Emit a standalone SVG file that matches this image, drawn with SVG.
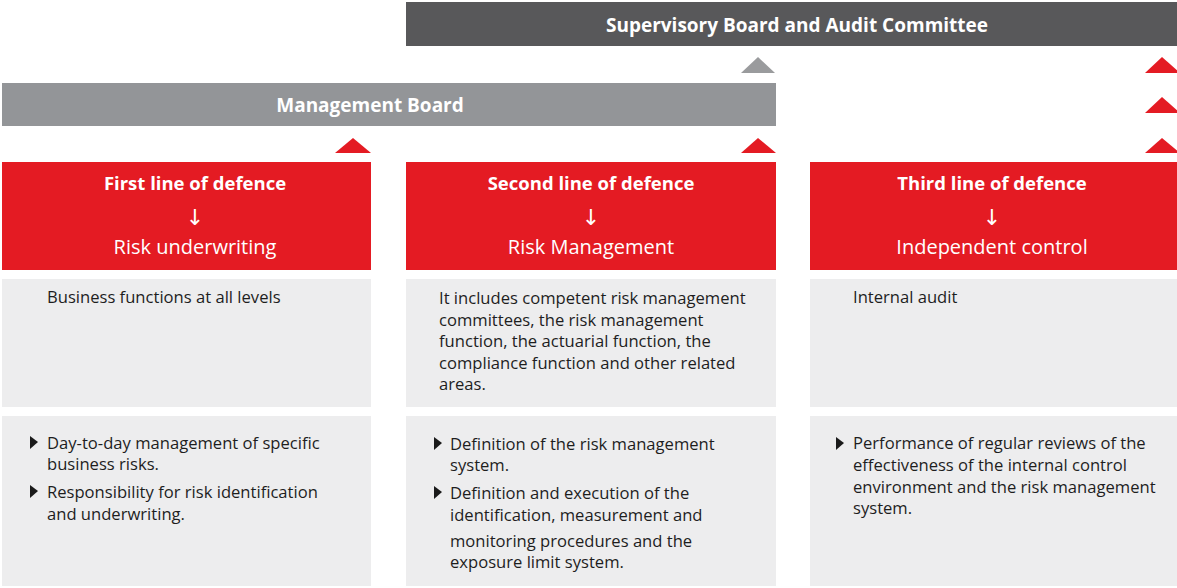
<svg xmlns="http://www.w3.org/2000/svg" width="1177" height="588" viewBox="0 0 1177 588">
<style>
.bar{font-family:"Open Sans","Noto Sans",sans-serif;font-weight:700;font-size:19px;fill:#fff;text-anchor:middle}
.red{fill:#e41b23}
.t1{font-family:"Open Sans","Noto Sans",sans-serif;font-weight:700;font-size:18.5px;fill:#fff;text-anchor:middle}
.t2{font-family:"Open Sans","Noto Sans",sans-serif;font-size:20px;fill:#fff;text-anchor:middle}
.ar{font-family:"DejaVu Sans",sans-serif;font-size:22px;fill:#fff;text-anchor:middle}
.box{fill:#ededee}
.tx{font-family:"Open Sans","Noto Sans",sans-serif;font-size:16.6px;fill:#1e1e1e}
.bul{fill:#1a1a1a}
</style>
<rect width="1177" height="588" fill="#fff"/>
<g id="supervisory">
<rect x="406" y="2" width="771" height="44" fill="#58585a"/>
<text class="bar" x="797" y="32">Supervisory Board and Audit Committee</text>
</g>
<g id="management">
<rect x="2" y="83" width="774" height="43" fill="#939598"/>
<text class="bar" x="370" y="112">Management Board</text>
</g>
<g id="connectors">
<polygon points="741,73 758,57 775,73" fill="#9a9b9d"/>
<polygon class="red" points="335,153 353,138 371,153"/>
<polygon class="red" points="741,153 758,138 776,153"/>
<polygon class="red" points="1145,153 1162,138 1180,153"/>
<polygon class="red" points="1145,113 1162,97 1180,113"/>
<polygon class="red" points="1145,73 1162,57 1180,73"/>
</g>
<g id="first">
<rect class="red" x="2" y="162" width="369" height="108"/>
<text class="t1" x="195" y="190">First line of defence</text>
<text class="ar" x="195" y="225">↓</text>
<text class="t2" x="195" y="254">Risk underwriting</text>
</g>
<g id="second">
<rect class="red" x="406" y="162" width="370" height="108"/>
<text class="t1" x="591" y="190">Second line of defence</text>
<text class="ar" x="591" y="225">↓</text>
<text class="t2" x="591" y="254">Risk Management</text>
</g>
<g id="third">
<rect class="red" x="810" y="162" width="367" height="108"/>
<text class="t1" x="992" y="190">Third line of defence</text>
<text class="ar" x="992" y="225">↓</text>
<text class="t2" x="992" y="254">Independent control</text>
</g>
<g id="first-desc">
<rect class="box" x="2" y="279" width="369" height="128"/>
<text class="tx" x="47" y="303">Business functions at all levels</text>
</g>
<g id="second-desc">
<rect class="box" x="406" y="279" width="370" height="128"/>
<text class="tx" x="439" y="304">It includes competent risk management</text>
<text class="tx" x="439" y="326">committees, the risk management</text>
<text class="tx" x="439" y="347">function, the actuarial function, the</text>
<text class="tx" x="439" y="369">compliance function and other related</text>
<text class="tx" x="439" y="390">areas.</text>
</g>
<g id="third-desc">
<rect class="box" x="810" y="279" width="367" height="128"/>
<text class="tx" x="853" y="303">Internal audit</text>
</g>
<g id="first-tasks">
<rect class="box" x="2" y="416" width="369" height="170"/>
<polygon class="bul" points="30,436 38,442 30,449"/>
<text class="tx" x="47" y="449">Day-to-day management of specific</text>
<text class="tx" x="47" y="470">business risks.</text>
<polygon class="bul" points="30,485 38,491 30,498"/>
<text class="tx" x="47" y="498">Responsibility for risk identification</text>
<text class="tx" x="47" y="520">and underwriting.</text>
</g>
<g id="second-tasks">
<rect class="box" x="406" y="416" width="370" height="170"/>
<polygon class="bul" points="434,437 442,443 434,450"/>
<text class="tx" x="450" y="450">Definition of the risk management</text>
<text class="tx" x="450" y="471">system.</text>
<polygon class="bul" points="434,486 442,492 434,499"/>
<text class="tx" x="450" y="499">Definition and execution of the</text>
<text class="tx" x="450" y="521">identification, measurement and</text>
<text class="tx" x="450" y="547">monitoring procedures and the</text>
<text class="tx" x="450" y="568">exposure limit system.</text>
</g>
<g id="third-tasks">
<rect class="box" x="810" y="416" width="367" height="170"/>
<polygon class="bul" points="836,437 844,443 836,450"/>
<text class="tx" x="853" y="449">Performance of regular reviews of the</text>
<text class="tx" x="853" y="471">effectiveness of the internal control</text>
<text class="tx" x="853" y="493">environment and the risk management</text>
<text class="tx" x="853" y="514">system.</text>
</g>
</svg>
